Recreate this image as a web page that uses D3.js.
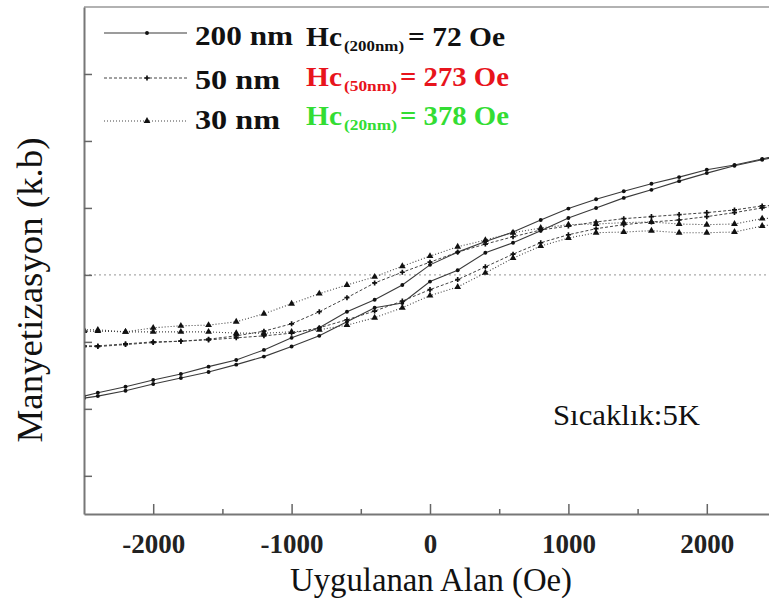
<!DOCTYPE html>
<html>
<head>
<meta charset="utf-8">
<script src="https://cdn.jsdelivr.net/npm/d3@7"></script>
<style>
  body { margin: 0; background: #fff; }
  svg { display: block; }
  svg text { font-family: "Liberation Serif", "Times New Roman", serif; }
</style>
</head>
<body>
<div id="chart"></div>
<script>
// applied field (Oe), shared by every branch
const fieldOe = [-2500, -2400, -2200, -2000, -1800, -1600, -1400, -1200, -1000, -800, -600, -400, -200,
    0, 200, 400, 600, 800, 1000, 1200, 1400, 1600, 1800, 2000, 2200, 2400, 2500];

// magnetization (arbitrary units), descending (upper) and ascending (lower) branches
const m200Down = [-1.81, -1.76, -1.67, -1.57, -1.48, -1.37, -1.27, -1.12, -0.94, -0.79, -0.55, -0.37, -0.15,
    0.15, 0.34, 0.50, 0.64, 0.82, 0.99, 1.13, 1.25, 1.36, 1.46, 1.57, 1.64, 1.73, 1.78];
const m200Up = [-1.84, -1.81, -1.73, -1.63, -1.54, -1.45, -1.34, -1.22, -1.07, -0.91, -0.70, -0.49, -0.42,
    -0.10, 0.07, 0.33, 0.48, 0.66, 0.85, 1.00, 1.15, 1.27, 1.40, 1.52, 1.63, 1.72, 1.76];
const m50Down = [-1.06, -1.06, -1.03, -1.00, -0.99, -0.96, -0.91, -0.84, -0.73, -0.55, -0.34, -0.12, 0.04,
    0.19, 0.34, 0.46, 0.57, 0.67, 0.73, 0.79, 0.84, 0.87, 0.90, 0.93, 0.97, 1.03, 1.04];
const m50Up = [-1.07, -1.07, -1.04, -1.01, -0.99, -0.97, -0.94, -0.91, -0.87, -0.79, -0.67, -0.54, -0.39,
    -0.22, -0.07, 0.12, 0.31, 0.48, 0.60, 0.69, 0.75, 0.79, 0.82, 0.87, 0.93, 1.00, 1.03];
const m30Down = [-0.82, -0.82, -0.85, -0.79, -0.76, -0.75, -0.70, -0.58, -0.43, -0.28, -0.15, -0.03, 0.13,
    0.28, 0.42, 0.52, 0.63, 0.70, 0.75, 0.76, 0.78, 0.79, 0.76, 0.75, 0.76, 0.84, 0.85];
const m30Up = [-0.84, -0.84, -0.85, -0.85, -0.85, -0.85, -0.87, -0.87, -0.85, -0.82, -0.75, -0.64, -0.49,
    -0.31, -0.18, 0.03, 0.25, 0.43, 0.55, 0.63, 0.64, 0.66, 0.63, 0.63, 0.64, 0.73, 0.76];

const xTicks = [-2000, -1000, 0, 1000, 2000];
const xMinorTicks = [-1500, -500, 500, 1500];
const yTicks = [-3, -2, -1, 0, 1, 2, 3];

const sizeLabels = ["200 nm", "50 nm", "30 nm"];
const hcSubs = ["(200nm)", "(50nm)", "(20nm)"];
const hcValues = ["= 72 Oe", "= 273 Oe", "= 378 Oe"];
const hcColors = ["#111", "#e8141c", "#33dd33"];

const W = 769, H = 604;
const serif = "Liberation Serif, Times New Roman, serif";

const x = d3.scaleLinear().domain([-2500, 2500]).range([84, 776]);
const y = d3.scaleLinear().domain([-3.57, 4]).range([514, 7]);

const styles = [
    {dash: null, stroke: "#3a3a3a", width: 1.1, symbol: d3.symbolCircle, size: 12},
    {dash: "3,2", stroke: "#444", width: 1, symbol: d3.symbolCross, size: 14},
    {dash: "1,2", stroke: "#444", width: 1.1, symbol: d3.symbolTriangle, size: 20}
];

const series = [
    {style: 0, values: m200Down}, {style: 0, values: m200Up},
    {style: 1, values: m50Down}, {style: 1, values: m50Up},
    {style: 2, values: m30Down}, {style: 2, values: m30Up}
];

const svg = d3.select("#chart").append("svg")
    .attr("width", W)
    .attr("height", H);

svg.append("defs").append("clipPath").attr("id", "plot-clip")
    .append("rect").attr("x", 84).attr("y", 7).attr("width", W - 84).attr("height", 507);

// zero line
svg.append("line")
    .attr("x1", 84).attr("x2", W)
    .attr("y1", y(0)).attr("y2", y(0))
    .attr("stroke", "#aaa")
    .attr("stroke-width", 1.4)
    .attr("stroke-dasharray", "2,3");

const line = d3.line()
    .x((d, i) => x(fieldOe[i]))
    .y(d => y(d));

const plot = svg.append("g").attr("clip-path", "url(#plot-clip)");

for (const s of series) {
    const st = styles[s.style];
    plot.append("path")
        .attr("fill", "none")
        .attr("stroke", st.stroke)
        .attr("stroke-width", st.width)
        .attr("stroke-dasharray", st.dash)
        .attr("d", line(s.values));
    plot.append("g")
        .selectAll("path")
        .data(s.values)
        .join("path")
        .attr("transform", (d, i) => `translate(${x(fieldOe[i])},${y(d)})`)
        .attr("d", d3.symbol().type(st.symbol).size(st.size))
        .attr("fill", "#111");
}

// frame
svg.append("line").attr("x1", 84).attr("x2", W).attr("y1", 7).attr("y2", 7)
    .attr("stroke", "#999").attr("stroke-width", 1.5);

const xAxis = svg.append("g")
    .attr("transform", "translate(0,514)")
    .call(d3.axisBottom(x).tickValues(xTicks).tickSizeInner(-10).tickSizeOuter(0).tickPadding(20));
xAxis.attr("font-family", serif);
xAxis.select(".domain").attr("stroke", "#777").attr("stroke-width", 2);
xAxis.selectAll(".tick line").attr("stroke", "#666").attr("stroke-width", 1.5);
xAxis.selectAll("text")
    .attr("font-family", serif)
    .attr("font-weight", "bold")
    .attr("font-size", 27)
    .attr("fill", "#222")
    .text(d => d < 0 ? "-" + Math.abs(d) : d);

svg.append("g")
    .attr("transform", "translate(0,514)")
    .call(d3.axisBottom(x).tickValues(xMinorTicks).tickSizeInner(-5).tickSizeOuter(0).tickFormat(""))
    .call(g => g.select(".domain").remove())
    .selectAll(".tick line").attr("stroke", "#666").attr("stroke-width", 1.5);

const yAxis = svg.append("g")
    .attr("transform", "translate(84,0)")
    .call(d3.axisLeft(y).tickValues(yTicks).tickSizeInner(-8).tickSizeOuter(0).tickFormat(""));
yAxis.select(".domain").attr("stroke", "#777").attr("stroke-width", 2);
yAxis.selectAll(".tick line").attr("stroke", "#666").attr("stroke-width", 1.5);

// axis titles
svg.append("text")
    .attr("x", 431).attr("y", 591)
    .attr("text-anchor", "middle")
    .attr("font-family", serif)
    .attr("font-size", 33)
    .attr("textLength", 282)
    .attr("lengthAdjust", "spacingAndGlyphs")
    .attr("fill", "#111")
    .text("Uygulanan Alan (Oe)");

svg.append("text")
    .attr("transform", "translate(42,290) rotate(-90)")
    .attr("text-anchor", "middle")
    .attr("font-family", serif)
    .attr("font-size", 35)
    .attr("textLength", 305)
    .attr("lengthAdjust", "spacingAndGlyphs")
    .attr("fill", "#111")
    .text("Manyetizasyon (k.b)");

svg.append("text")
    .attr("x", 553).attr("y", 425)
    .attr("font-family", serif)
    .attr("font-size", 30)
    .attr("textLength", 147)
    .attr("lengthAdjust", "spacingAndGlyphs")
    .attr("fill", "#111")
    .text("Sıcaklık:5K");

// legend
const legendLineY = [33, 78, 121];
const labelBaseY = [45, 89, 129];
const hcBaseY = [46, 86, 125];
const labelWidths = [98, 85, 85];
const subWidths = [58, 51, 51];
const valueX = [408, 400, 400];
const legend = svg.append("g");
sizeLabels.forEach((lbl, i) => {
    const st = styles[i];
    const ly = legendLineY[i];
    legend.append("line")
        .attr("x1", 104).attr("x2", 187).attr("y1", ly).attr("y2", ly)
        .attr("stroke", st.stroke).attr("stroke-width", st.width)
        .attr("stroke-dasharray", st.dash);
    legend.append("path")
        .attr("transform", `translate(147,${ly})`)
        .attr("d", d3.symbol().type(st.symbol).size(st.size))
        .attr("fill", "#111");
    legend.append("text")
        .attr("x", 195).attr("y", labelBaseY[i])
        .attr("font-family", serif)
        .attr("font-size", 28).attr("font-weight", "bold")
        .attr("textLength", labelWidths[i])
        .attr("lengthAdjust", "spacingAndGlyphs")
        .attr("fill", "#111")
        .text(lbl);
    const hy = hcBaseY[i];
    const hc = legend.append("g")
        .attr("font-family", serif)
        .attr("font-weight", "bold")
        .attr("fill", hcColors[i]);
    hc.append("text")
        .attr("x", 306).attr("y", hy)
        .attr("font-size", 28)
        .attr("textLength", 36)
        .attr("lengthAdjust", "spacingAndGlyphs")
        .text("Hc");
    hc.append("text")
        .attr("x", 344).attr("y", hy + 5)
        .attr("font-size", 15)
        .attr("textLength", subWidths[i] + 2)
        .attr("lengthAdjust", "spacingAndGlyphs")
        .text(hcSubs[i]);
    hc.append("text")
        .attr("x", valueX[i]).attr("y", hy)
        .attr("font-size", 28)
        .attr("textLength", 505 - valueX[i] + (i === 0 ? 0 : 4))
        .attr("lengthAdjust", "spacingAndGlyphs")
        .text(hcValues[i]);
});
</script>
</body>
</html>
